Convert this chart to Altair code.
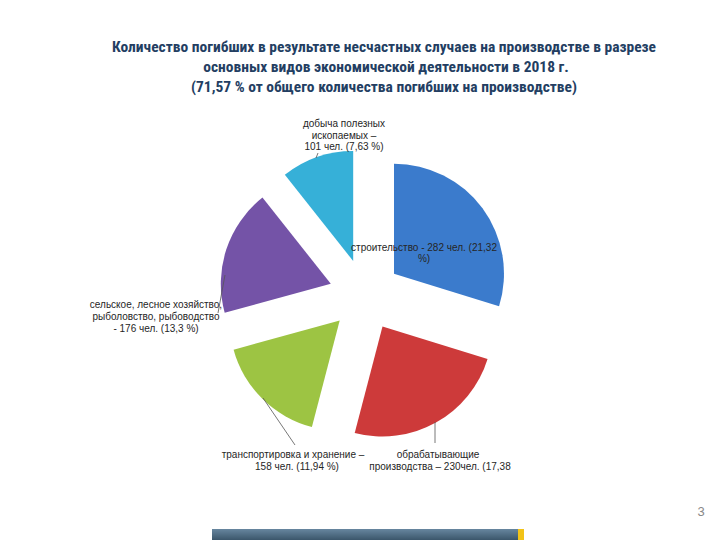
import altair as alt
import pandas as pd

# ---- data ----
categories = [
    "строительство",
    "обрабатывающие производства",
    "транспортировка и хранение",
    "сельское, лесное хозяйство, рыболовство, рыбоводство",
    "добыча полезных ископаемых",
]
values = [282, 230, 158, 176, 101]
colors = ["#3b7bcc", "#cd3a3a", "#9dc443", "#7453a7", "#36b0d8"]

label_lines = [
    "добыча полезных", "ископаемых –", "101 чел. (7,63 %)",
    "строительство - 282 чел. (21,32", "%)",
    "сельское, лесное хозяйство,", "рыболовство, рыбоводство", "- 176 чел. (13,3 %)",
    "транспортировка и хранение –", "158 чел. (11,94 %)",
    "обрабатывающие", "производства – 230чел. (17,38",
]
title_lines = [
    "Количество погибших в результате несчастных случаев на производстве в разрезе",
    "основных  видов экономической деятельности в 2018 г.",
    "(71,57 % от общего количества погибших на производстве)",
]

# ---- layout (pixel-like coordinates of the page) ----
CX, CY, R, EXPLODE = 365, 295, 110, 36
label_x = [344, 344, 344, 424, 424, 156, 156, 156, 293, 297, 438, 440]
label_y = [124, 136, 147, 248, 259, 305, 317, 329, 455, 467, 455, 467]
title_x = [384, 386, 384]
title_y = [47, 67, 87]
leaders = pd.DataFrame({
    "x": [316, 225, 263, 435], "y": [158, 275, 398, 422],
    "x2": [318, 218, 295, 435], "y2": [153, 313, 445, 443],
})

W, H = 704, 532
xs = alt.Scale(domain=[8, 712], nice=False, zero=False)
ys = alt.Scale(domain=[8, 540], nice=False, zero=False, reverse=True)

pie_df = pd.DataFrame({"cat": categories, "value": values,
                       "order": list(range(len(values))), "color": colors})

pie = (
    alt.Chart(pie_df)
    .transform_window(cum="sum(value)", sort=[alt.SortField("order")], frame=[None, 0])
    .transform_joinaggregate(total="sum(value)")
    .transform_calculate(
        start="(datum.cum - datum.value) / datum.total * 2 * PI",
        end="datum.cum / datum.total * 2 * PI",
    )
    .transform_calculate(mid="(datum.start + datum.end) / 2")
    .transform_calculate(
        px=f"{CX} + {EXPLODE} * sin(datum.mid)",
        py=f"{CY} - {EXPLODE} * cos(datum.mid)",
    )
    .mark_arc(radius=R)
    .encode(
        x=alt.X("px:Q", scale=xs, axis=None),
        y=alt.Y("py:Q", scale=ys, axis=None),
        theta=alt.Theta("start:Q", scale=None),
        theta2="end:Q",
        color=alt.Color("color:N", scale=None),
    )
)

labels = (
    alt.Chart(pd.DataFrame({"t": label_lines, "x": label_x, "y": label_y}))
    .mark_text(font="Liberation Sans", fontSize=10, color="#262626",
               align="center", baseline="middle")
    .encode(x=alt.X("x:Q", scale=xs, axis=None), y=alt.Y("y:Q", scale=ys, axis=None), text="t:N")
)

lead = (
    alt.Chart(leaders)
    .mark_rule(color="#555555", strokeWidth=0.8)
    .encode(x=alt.X("x:Q", scale=xs, axis=None), y=alt.Y("y:Q", scale=ys, axis=None),
            x2="x2:Q", y2="y2:Q")
)

title = (
    alt.Chart(pd.DataFrame({"t": title_lines, "x": title_x, "y": title_y}))
    .mark_text(font="Liberation Sans Narrow, Roboto Condensed, DejaVu Sans Condensed, sans-serif",
               fontSize=15.5, fontWeight="bold", color="#233e62",
               align="center", baseline="middle")
    .encode(x=alt.X("x:Q", scale=xs, axis=None), y=alt.Y("y:Q", scale=ys, axis=None), text="t:N")
)

deco = pd.DataFrame({"x": [212, 518], "x2": [519, 524], "y": [529, 529], "y2": [540, 540],
                     "kind": ["bar", "tick"]})
bar = (
    alt.Chart(deco).transform_filter("datum.kind == 'bar'")
    .mark_rect(color=alt.Gradient(gradient="linear", x1=0, y1=0, x2=0, y2=1,
                                  stops=[alt.GradientStop(color="#67869f", offset=0),
                                         alt.GradientStop(color="#3b566b", offset=1)]))
    .encode(x=alt.X("x:Q", scale=xs, axis=None), x2="x2:Q",
            y=alt.Y("y:Q", scale=ys, axis=None), y2="y2:Q")
)
tick = (
    alt.Chart(deco).transform_filter("datum.kind == 'tick'")
    .mark_rect(color="#f2c318")
    .encode(x=alt.X("x:Q", scale=xs, axis=None), x2="x2:Q",
            y=alt.Y("y:Q", scale=ys, axis=None), y2="y2:Q")
)
pagenum = (
    alt.Chart(pd.DataFrame({"t": ["3"], "x": [701], "y": [512]}))
    .mark_text(font="Liberation Sans", fontSize=13, color="#888888", align="center", baseline="middle")
    .encode(x=alt.X("x:Q", scale=xs, axis=None), y=alt.Y("y:Q", scale=ys, axis=None), text="t:N")
)

chart = (
    alt.layer(pie, lead, labels, title, bar, tick, pagenum)
    .properties(width=W, height=H, padding=0, autosize=alt.AutoSizeParams(type="none"),
                background="white")
    .configure_view(stroke=None)
)

chart.save("out.html", embed_options={"renderer": "svg", "actions": False})
